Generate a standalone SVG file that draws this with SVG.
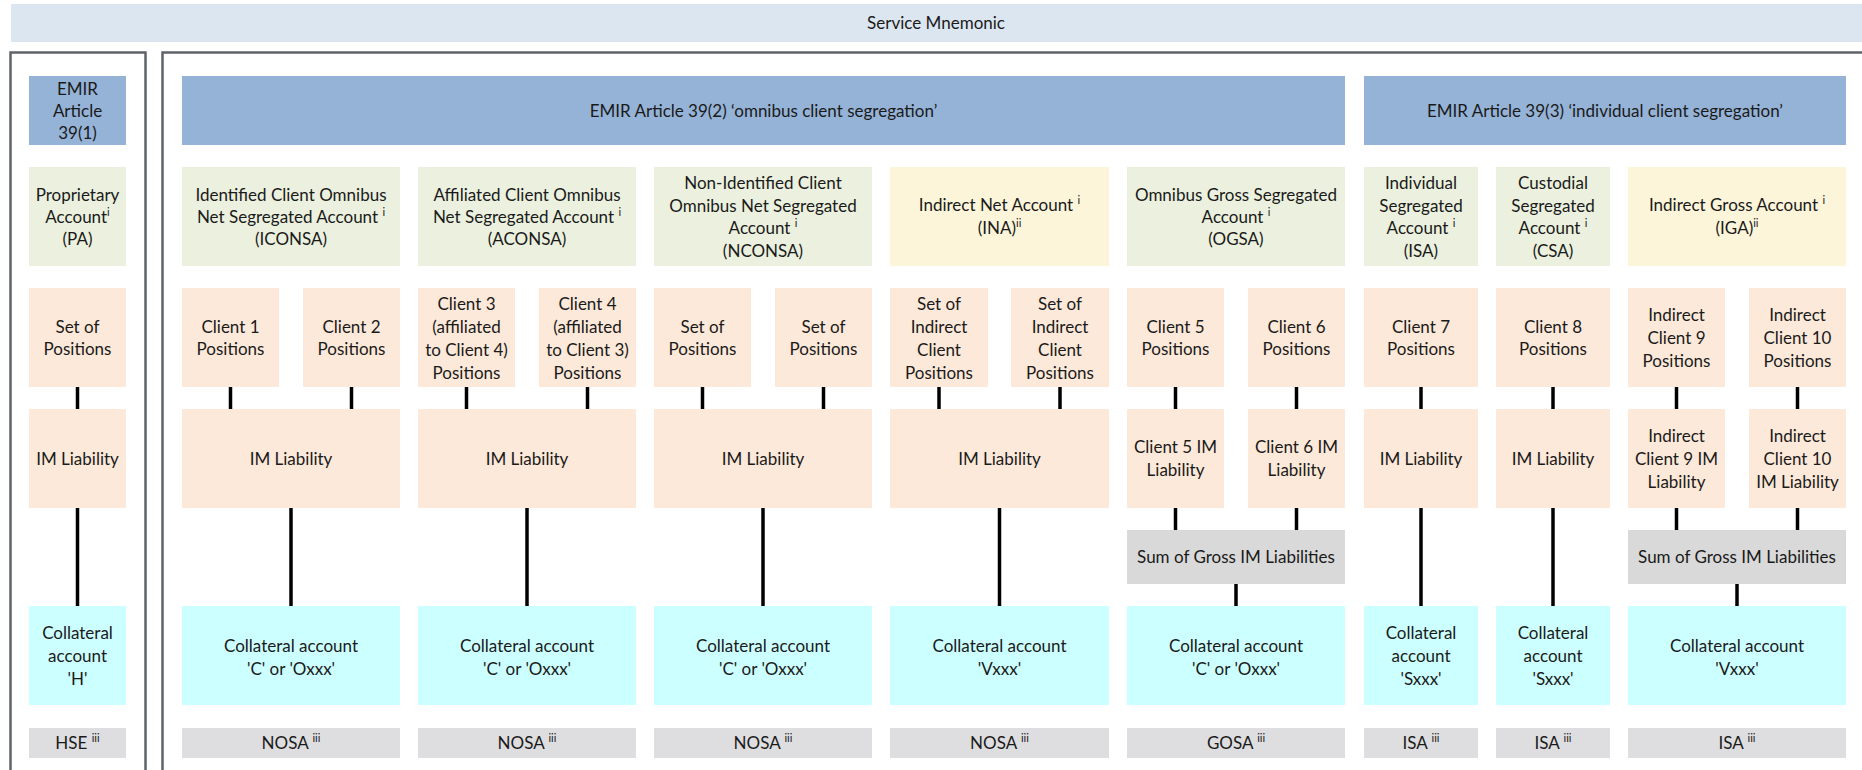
<svg xmlns="http://www.w3.org/2000/svg" width="1862" height="770" viewBox="0 0 1862 770">
<style>
text{font-family:Lato,"Liberation Sans",sans-serif;font-size:17px;fill:#1a1a1a;text-anchor:middle}
.sup{font-size:11px}
.svc{fill:#DCE6F1}
.hdr{fill:#95B3D7}
.acc{fill:#EBF1DE}
.ind{fill:#FDF5DA}
.pos{fill:#FDE9D9}
.col{fill:#CCFFFF}
.sum{fill:#D9D9D9}
.lbl{fill:#DEDEE0}
.frame{fill:none;stroke:#5F6368;stroke-width:2.5}
#connectors line{stroke:#000;stroke-width:3.5}
</style>
<rect width="1862" height="770" fill="#fff"/>
<g id="service"><rect class="svc" x="11" y="4" width="1851" height="38"/><text x="936" y="29">Service Mnemonic</text></g>
<g id="frames">
<rect class="frame" x="10.5" y="52.5" width="135" height="740"/>
<path class="frame" d="M162.5,790 V52.5 H1870"/>
</g>
<g id="connectors">
<line x1="77.5" y1="387" x2="77.5" y2="409"/>
<line x1="77.5" y1="508" x2="77.5" y2="606"/>
<line x1="230.5" y1="387" x2="230.5" y2="409"/>
<line x1="351.5" y1="387" x2="351.5" y2="409"/>
<line x1="291" y1="508" x2="291" y2="606"/>
<line x1="466.5" y1="387" x2="466.5" y2="409"/>
<line x1="587.5" y1="387" x2="587.5" y2="409"/>
<line x1="527" y1="508" x2="527" y2="606"/>
<line x1="702.5" y1="387" x2="702.5" y2="409"/>
<line x1="823.5" y1="387" x2="823.5" y2="409"/>
<line x1="763" y1="508" x2="763" y2="606"/>
<line x1="939" y1="387" x2="939" y2="409"/>
<line x1="1060" y1="387" x2="1060" y2="409"/>
<line x1="999.5" y1="508" x2="999.5" y2="606"/>
<line x1="1175.5" y1="387" x2="1175.5" y2="409"/>
<line x1="1296.5" y1="387" x2="1296.5" y2="409"/>
<line x1="1175.5" y1="508" x2="1175.5" y2="530"/>
<line x1="1296.5" y1="508" x2="1296.5" y2="530"/>
<line x1="1236" y1="584" x2="1236" y2="606"/>
<line x1="1421" y1="387" x2="1421" y2="409"/>
<line x1="1421" y1="508" x2="1421" y2="606"/>
<line x1="1553" y1="387" x2="1553" y2="409"/>
<line x1="1553" y1="508" x2="1553" y2="606"/>
<line x1="1676.5" y1="387" x2="1676.5" y2="409"/>
<line x1="1797.5" y1="387" x2="1797.5" y2="409"/>
<line x1="1676.5" y1="508" x2="1676.5" y2="530"/>
<line x1="1797.5" y1="508" x2="1797.5" y2="530"/>
<line x1="1737" y1="584" x2="1737" y2="606"/>
</g>

<g id="hdr-391"><rect class="hdr" x="29" y="76" width="97" height="69"/><text x="77.5" y="94.5">EMIR</text><text x="77.5" y="116.5">Article</text><text x="77.5" y="138.5">39(1)</text></g>
<g id="hdr-392"><rect class="hdr" x="182" y="76" width="1163" height="69"/><text x="763.5" y="116.5">EMIR Article 39(2) ‘omnibus client segregation’</text></g>
<g id="hdr-393"><rect class="hdr" x="1364" y="76" width="482" height="69"/><text x="1605" y="116.5">EMIR Article 39(3) ‘individual client segregation’</text></g>

<g id="acc-pa"><rect class="acc" x="29" y="167" width="97" height="99"/><text x="77.5" y="200.5">Proprietary</text><text x="77.5" y="222.5">Account<tspan class="sup" dy="-7">i</tspan></text><text x="77.5" y="244.5">(PA)</text></g>
<g id="acc-iconsa"><rect class="acc" x="182" y="167" width="218" height="99"/><text x="291" y="200.5">Identified Client Omnibus</text><text x="291" y="222.5">Net Segregated Account <tspan class="sup" dy="-7">i</tspan></text><text x="291" y="244.5">(ICONSA)</text></g>
<g id="acc-aconsa"><rect class="acc" x="418" y="167" width="218" height="99"/><text x="527" y="200.5">Affiliated Client Omnibus</text><text x="527" y="222.5">Net Segregated Account <tspan class="sup" dy="-7">i</tspan></text><text x="527" y="244.5">(ACONSA)</text></g>
<g id="acc-nconsa"><rect class="acc" x="654" y="167" width="218" height="99"/><text x="763" y="189">Non-Identified Client</text><text x="763" y="211.5">Omnibus Net Segregated</text><text x="763" y="234">Account <tspan class="sup" dy="-7">i</tspan></text><text x="763" y="256.5">(NCONSA)</text></g>
<g id="acc-ina"><rect class="ind" x="890" y="167" width="219" height="99"/><text x="999.5" y="211">Indirect Net Account <tspan class="sup" dy="-7">i</tspan></text><text x="999.5" y="234">(INA)<tspan class="sup" dy="-7">ii</tspan></text></g>
<g id="acc-ogsa"><rect class="acc" x="1127" y="167" width="218" height="99"/><text x="1236" y="200.5">Omnibus Gross Segregated</text><text x="1236" y="222.5">Account <tspan class="sup" dy="-7">i</tspan></text><text x="1236" y="244.5">(OGSA)</text></g>
<g id="acc-isa"><rect class="acc" x="1364" y="167" width="114" height="99"/><text x="1421" y="189">Individual</text><text x="1421" y="211.5">Segregated</text><text x="1421" y="234">Account <tspan class="sup" dy="-7">i</tspan></text><text x="1421" y="256.5">(ISA)</text></g>
<g id="acc-csa"><rect class="acc" x="1496" y="167" width="114" height="99"/><text x="1553" y="189">Custodial</text><text x="1553" y="211.5">Segregated</text><text x="1553" y="234">Account <tspan class="sup" dy="-7">i</tspan></text><text x="1553" y="256.5">(CSA)</text></g>
<g id="acc-iga"><rect class="ind" x="1628" y="167" width="218" height="99"/><text x="1737" y="211">Indirect Gross Account <tspan class="sup" dy="-7">i</tspan></text><text x="1737" y="234">(IGA)<tspan class="sup" dy="-7">ii</tspan></text></g>

<g id="pos-pa"><rect class="pos" x="29" y="288" width="97" height="99"/><text x="77.5" y="332.5">Set of</text><text x="77.5" y="355">Positions</text></g>
<g id="pos-c1"><rect class="pos" x="182" y="288" width="97" height="99"/><text x="230.5" y="332.5">Client 1</text><text x="230.5" y="355">Positions</text></g>
<g id="pos-c2"><rect class="pos" x="303" y="288" width="97" height="99"/><text x="351.5" y="332.5">Client 2</text><text x="351.5" y="355">Positions</text></g>
<g id="pos-c3"><rect class="pos" x="418" y="288" width="97" height="99"/><text x="466.5" y="309.5">Client 3</text><text x="466.5" y="332.5">(affiliated</text><text x="466.5" y="355.5">to Client 4)</text><text x="466.5" y="378.5">Positions</text></g>
<g id="pos-c4"><rect class="pos" x="539" y="288" width="97" height="99"/><text x="587.5" y="309.5">Client 4</text><text x="587.5" y="332.5">(affiliated</text><text x="587.5" y="355.5">to Client 3)</text><text x="587.5" y="378.5">Positions</text></g>
<g id="pos-n1"><rect class="pos" x="654" y="288" width="97" height="99"/><text x="702.5" y="332.5">Set of</text><text x="702.5" y="355">Positions</text></g>
<g id="pos-n2"><rect class="pos" x="775" y="288" width="97" height="99"/><text x="823.5" y="332.5">Set of</text><text x="823.5" y="355">Positions</text></g>
<g id="pos-i1"><rect class="pos" x="890" y="288" width="98" height="99"/><text x="939" y="309.5">Set of</text><text x="939" y="332.5">Indirect</text><text x="939" y="355.5">Client</text><text x="939" y="378.5">Positions</text></g>
<g id="pos-i2"><rect class="pos" x="1011" y="288" width="98" height="99"/><text x="1060" y="309.5">Set of</text><text x="1060" y="332.5">Indirect</text><text x="1060" y="355.5">Client</text><text x="1060" y="378.5">Positions</text></g>
<g id="pos-c5"><rect class="pos" x="1127" y="288" width="97" height="99"/><text x="1175.5" y="332.5">Client 5</text><text x="1175.5" y="355">Positions</text></g>
<g id="pos-c6"><rect class="pos" x="1248" y="288" width="97" height="99"/><text x="1296.5" y="332.5">Client 6</text><text x="1296.5" y="355">Positions</text></g>
<g id="pos-c7"><rect class="pos" x="1364" y="288" width="114" height="99"/><text x="1421" y="332.5">Client 7</text><text x="1421" y="355">Positions</text></g>
<g id="pos-c8"><rect class="pos" x="1496" y="288" width="114" height="99"/><text x="1553" y="332.5">Client 8</text><text x="1553" y="355">Positions</text></g>
<g id="pos-c9"><rect class="pos" x="1628" y="288" width="97" height="99"/><text x="1676.5" y="321">Indirect</text><text x="1676.5" y="344">Client 9</text><text x="1676.5" y="367">Positions</text></g>
<g id="pos-c10"><rect class="pos" x="1749" y="288" width="97" height="99"/><text x="1797.5" y="321">Indirect</text><text x="1797.5" y="344">Client 10</text><text x="1797.5" y="367">Positions</text></g>

<g id="im-pa"><rect class="pos" x="29" y="409" width="97" height="99"/><text x="77.5" y="465">IM Liability</text></g>
<g id="im-iconsa"><rect class="pos" x="182" y="409" width="218" height="99"/><text x="291" y="465">IM Liability</text></g>
<g id="im-aconsa"><rect class="pos" x="418" y="409" width="218" height="99"/><text x="527" y="465">IM Liability</text></g>
<g id="im-nconsa"><rect class="pos" x="654" y="409" width="218" height="99"/><text x="763" y="465">IM Liability</text></g>
<g id="im-ina"><rect class="pos" x="890" y="409" width="219" height="99"/><text x="999.5" y="465">IM Liability</text></g>
<g id="im-c5"><rect class="pos" x="1127" y="409" width="97" height="99"/><text x="1175.5" y="453">Client 5 IM</text><text x="1175.5" y="476">Liability</text></g>
<g id="im-c6"><rect class="pos" x="1248" y="409" width="97" height="99"/><text x="1296.5" y="453">Client 6 IM</text><text x="1296.5" y="476">Liability</text></g>
<g id="im-isa"><rect class="pos" x="1364" y="409" width="114" height="99"/><text x="1421" y="465">IM Liability</text></g>
<g id="im-csa"><rect class="pos" x="1496" y="409" width="114" height="99"/><text x="1553" y="465">IM Liability</text></g>
<g id="im-c9"><rect class="pos" x="1628" y="409" width="97" height="99"/><text x="1676.5" y="442">Indirect</text><text x="1676.5" y="465">Client 9 IM</text><text x="1676.5" y="488">Liability</text></g>
<g id="im-c10"><rect class="pos" x="1749" y="409" width="97" height="99"/><text x="1797.5" y="442">Indirect</text><text x="1797.5" y="465">Client 10</text><text x="1797.5" y="488">IM Liability</text></g>

<g id="sum-ogsa"><rect class="sum" x="1127" y="530" width="218" height="54"/><text x="1236" y="563">Sum of Gross IM Liabilities</text></g>
<g id="sum-iga"><rect class="sum" x="1628" y="530" width="218" height="54"/><text x="1737" y="563">Sum of Gross IM Liabilities</text></g>

<g id="col-pa"><rect class="col" x="29" y="606" width="97" height="99"/><text x="77.5" y="639">Collateral</text><text x="77.5" y="662">account</text><text x="77.5" y="685">'H'</text></g>
<g id="col-iconsa"><rect class="col" x="182" y="606" width="218" height="99"/><text x="291" y="651.5">Collateral account</text><text x="291" y="674.5">'C' or 'Oxxx'</text></g>
<g id="col-aconsa"><rect class="col" x="418" y="606" width="218" height="99"/><text x="527" y="651.5">Collateral account</text><text x="527" y="674.5">'C' or 'Oxxx'</text></g>
<g id="col-nconsa"><rect class="col" x="654" y="606" width="218" height="99"/><text x="763" y="651.5">Collateral account</text><text x="763" y="674.5">'C' or 'Oxxx'</text></g>
<g id="col-ina"><rect class="col" x="890" y="606" width="219" height="99"/><text x="999.5" y="651.5">Collateral account</text><text x="999.5" y="674.5">'Vxxx'</text></g>
<g id="col-ogsa"><rect class="col" x="1127" y="606" width="218" height="99"/><text x="1236" y="651.5">Collateral account</text><text x="1236" y="674.5">'C' or 'Oxxx'</text></g>
<g id="col-isa"><rect class="col" x="1364" y="606" width="114" height="99"/><text x="1421" y="639">Collateral</text><text x="1421" y="662">account</text><text x="1421" y="685">'Sxxx'</text></g>
<g id="col-csa"><rect class="col" x="1496" y="606" width="114" height="99"/><text x="1553" y="639">Collateral</text><text x="1553" y="662">account</text><text x="1553" y="685">'Sxxx'</text></g>
<g id="col-iga"><rect class="col" x="1628" y="606" width="218" height="99"/><text x="1737" y="651.5">Collateral account</text><text x="1737" y="674.5">'Vxxx'</text></g>

<g id="lbl-pa"><rect class="lbl" x="29" y="728" width="97" height="30"/><text x="77.5" y="749">HSE <tspan class="sup" dy="-7">iii</tspan></text></g>
<g id="lbl-iconsa"><rect class="lbl" x="182" y="728" width="218" height="30"/><text x="291" y="749">NOSA <tspan class="sup" dy="-7">iii</tspan></text></g>
<g id="lbl-aconsa"><rect class="lbl" x="418" y="728" width="218" height="30"/><text x="527" y="749">NOSA <tspan class="sup" dy="-7">iii</tspan></text></g>
<g id="lbl-nconsa"><rect class="lbl" x="654" y="728" width="218" height="30"/><text x="763" y="749">NOSA <tspan class="sup" dy="-7">iii</tspan></text></g>
<g id="lbl-ina"><rect class="lbl" x="890" y="728" width="219" height="30"/><text x="999.5" y="749">NOSA <tspan class="sup" dy="-7">iii</tspan></text></g>
<g id="lbl-ogsa"><rect class="lbl" x="1127" y="728" width="218" height="30"/><text x="1236" y="749">GOSA <tspan class="sup" dy="-7">iii</tspan></text></g>
<g id="lbl-isa"><rect class="lbl" x="1364" y="728" width="114" height="30"/><text x="1421" y="749">ISA <tspan class="sup" dy="-7">iii</tspan></text></g>
<g id="lbl-csa"><rect class="lbl" x="1496" y="728" width="114" height="30"/><text x="1553" y="749">ISA <tspan class="sup" dy="-7">iii</tspan></text></g>
<g id="lbl-iga"><rect class="lbl" x="1628" y="728" width="218" height="30"/><text x="1737" y="749">ISA <tspan class="sup" dy="-7">iii</tspan></text></g>
</svg>
